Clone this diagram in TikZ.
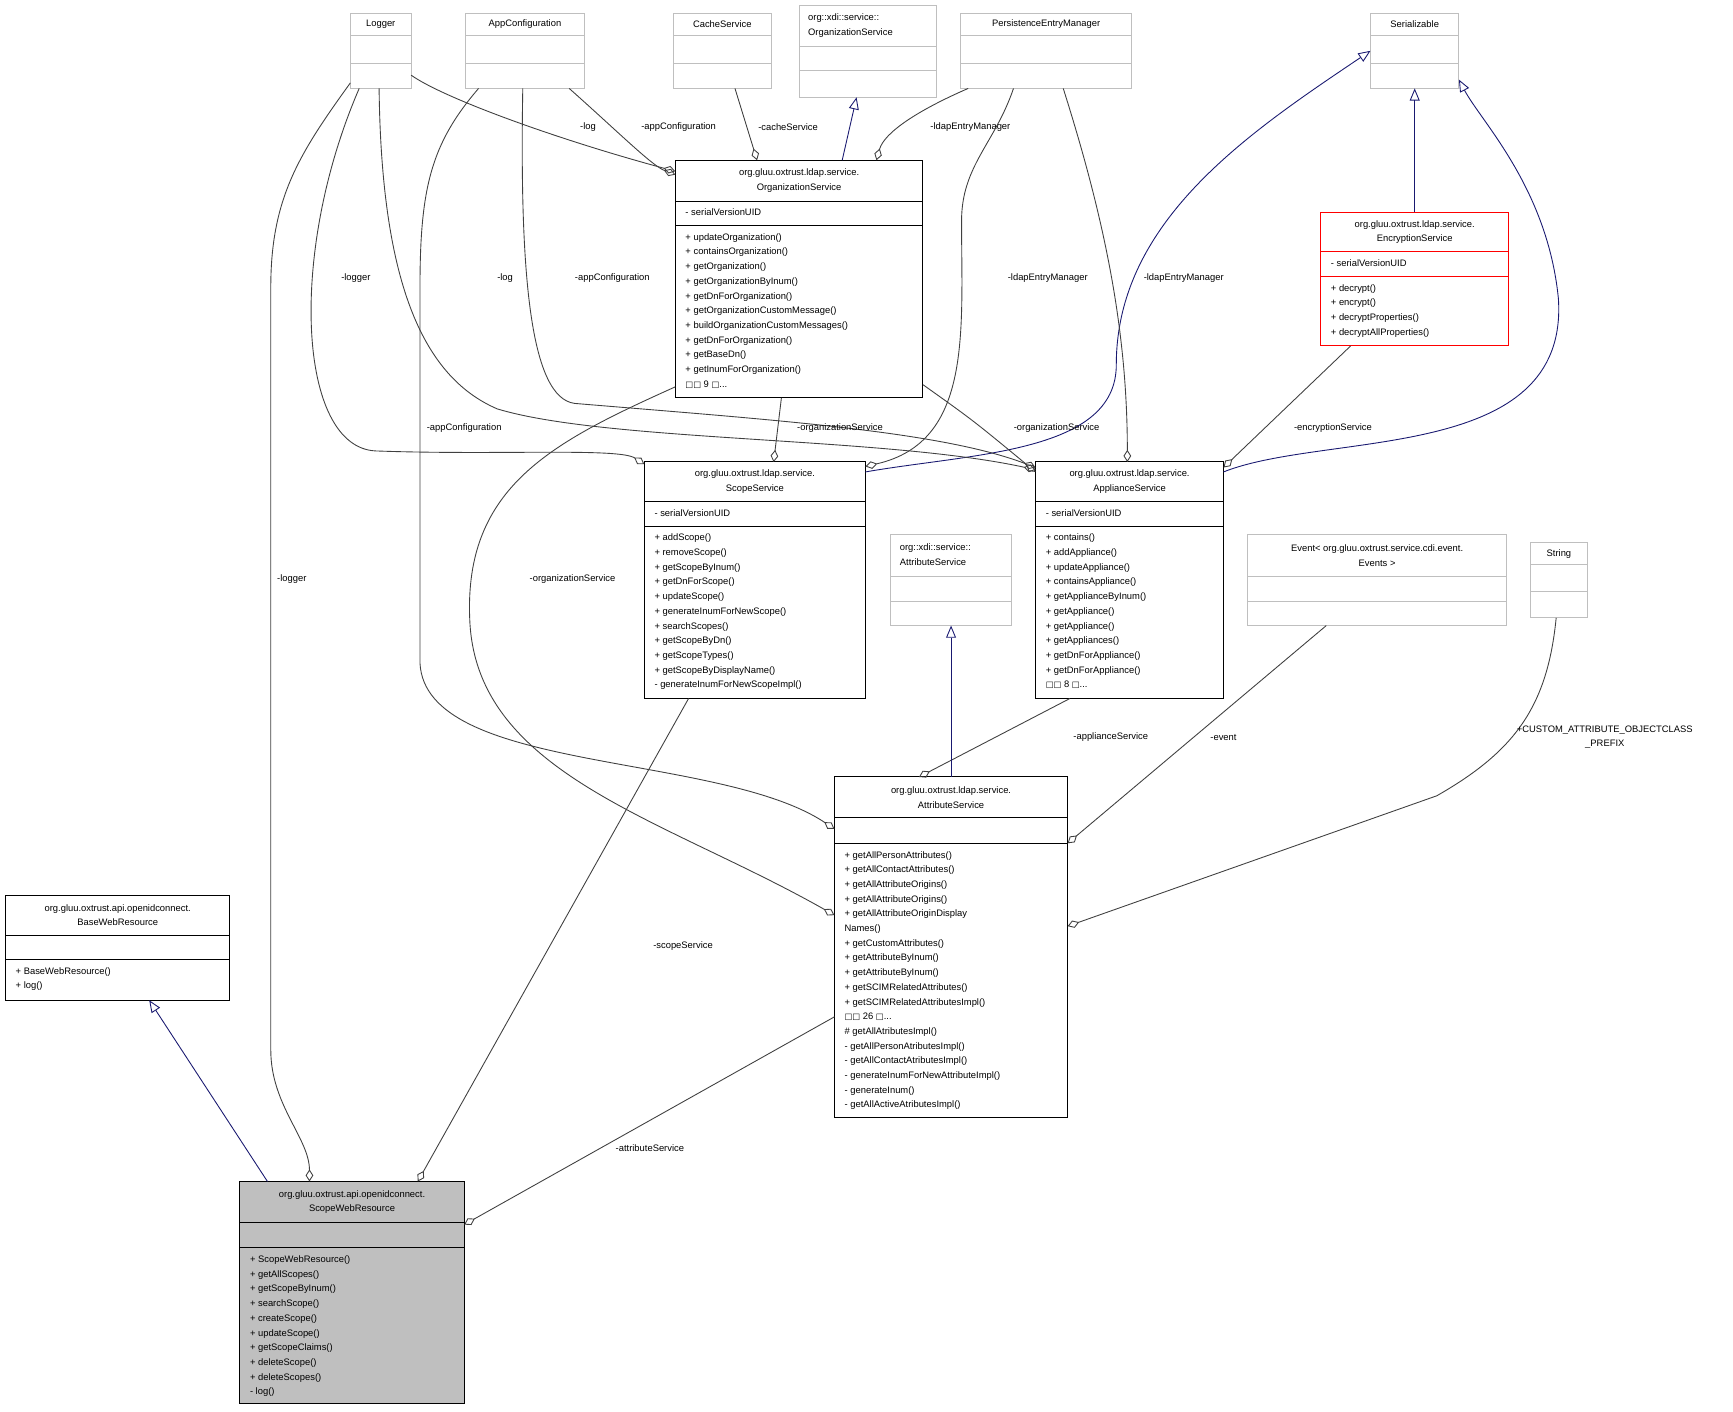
\documentclass[tikz,border=0pt]{standalone}
\usepackage{fontspec}
\setmainfont{Liberation Sans}
\newfontfamily\djv{DejaVu Sans}
\usetikzlibrary{arrows.meta}
\newcommand\dgfont{\fontsize{8.5}{13.3}\selectfont}
\newcommand\sq{{\djv\fontsize{7.5}{13.3}\selectfont □}}
\definecolor{gbord}{HTML}{BFBFBF}
\definecolor{edge}{HTML}{404040}
\definecolor{navyc}{HTML}{191970}
\newcommand\cls[9]{%
  \node[#1, anchor=north west, inner sep=0pt, outer sep=0pt, minimum width=#5pt, minimum height={(#6+#7+#8)*1pt}] (#2) at (#3,#4) {};
  \draw[#1, fill=none] (#3,#4+#6) -- ++(#5,0) (#3,#4+#6+#7) -- ++(#5,0);
  \node[font=\dgfont, align=center, inner sep=0pt] (#2-t) at (#3+#5/2, #4+#6/2) {#9};
}
\newcommand\sect[4]{% name-suffix x y text
  \node[font=\dgfont, align=left, anchor=north west, inner sep=0pt] (#1) at (#2+9,#3+7) {#4};
}
\tikzset{
  gbox/.style={draw=gbord, line width=0.9pt, fill=white},
  bbox/.style={draw=black, line width=0.9pt, fill=white},
  rbox/.style={draw=red, line width=0.9pt, fill=white},
  sbox/.style={draw=black, line width=0.9pt, fill=gbord},
  uses/.style={draw=edge, line width=0.8pt, -{Diamond[open,length=11pt,width=7pt]}},
  inh/.style={draw=navyc, line width=0.8pt, -{Triangle[open,length=11pt,width=9pt]}},
  lbl/.style={font=\dgfont, inner sep=1pt, align=center}
}
\begin{document}
\begin{tikzpicture}[x=1pt,y=-1pt]
\useasboundingbox (0,0) rectangle (1568,1277);
% ---- gray boxes
\cls{gbox}{logger}{317}{12}{55}{20}{25}{23}{Logger}
\cls{gbox}{appconf}{421}{12}{108}{20}{25}{23}{AppConfiguration}
\cls{gbox}{cache}{609}{12}{89}{20}{25}{23}{CacheService}
\cls{gbox}{xdiorg}{723}{5}{124}{37}{22}{24}{}
\node[font=\dgfont, align=left, anchor=west, inner sep=0pt] (xdiorg-tt) at (731,23) {org::xdi::service::\\OrganizationService};
\cls{gbox}{pem}{869}{12}{155}{20}{25}{23}{PersistenceEntryManager}
\cls{gbox}{serial}{1240}{12}{80}{20}{25}{23}{Serializable}
\cls{gbox}{xdiattr}{806}{484}{109}{38}{22}{22}{}
\node[font=\dgfont, align=left, anchor=west, inner sep=0pt] (xdiattr-tt) at (814,502) {org::xdi::service::\\AttributeService};
\cls{gbox}{event}{1129}{484}{234}{38}{22}{22}{Event< org.gluu.oxtrust.service.cdi.event.\\Events >}
\cls{gbox}{string}{1385}{491}{51}{20}{24}{24}{String}
% ---- main boxes
\cls{bbox}{org}{611}{145}{224}{37}{22}{156}{org.gluu.oxtrust.ldap.service.\\OrganizationService}
\sect{org-a}{611}{182}{- serialVersionUID}
\sect{org-m}{611}{204}{+ updateOrganization()\\+ containsOrganization()\\+ getOrganization()\\+ getOrganizationByInum()\\+ getDnForOrganization()\\+ getOrganizationCustomMessage()\\+ buildOrganizationCustomMessages()\\+ getDnForOrganization()\\+ getBaseDn()\\+ getInumForOrganization()\\\sq\sq{} 9 \sq...}
\cls{rbox}{enc}{1195}{192}{170}{36}{22}{63}{org.gluu.oxtrust.ldap.service.\\EncryptionService}
\sect{enc-a}{1195}{228}{- serialVersionUID}
\sect{enc-m}{1195}{250}{+ decrypt()\\+ encrypt()\\+ decryptProperties()\\+ decryptAllProperties()}
\cls{bbox}{scope}{583}{418}{200}{36}{22}{156}{org.gluu.oxtrust.ldap.service.\\ScopeService}
\sect{scope-a}{583}{454}{- serialVersionUID}
\sect{scope-m}{583}{476}{+ addScope()\\+ removeScope()\\+ getScopeByInum()\\+ getDnForScope()\\+ updateScope()\\+ generateInumForNewScope()\\+ searchScopes()\\+ getScopeByDn()\\+ getScopeTypes()\\+ getScopeByDisplayName()\\- generateInumForNewScopeImpl()}
\cls{bbox}{appl}{937}{418}{170}{36}{22}{156}{org.gluu.oxtrust.ldap.service.\\ApplianceService}
\sect{appl-a}{937}{454}{- serialVersionUID}
\sect{appl-m}{937}{476}{+ contains()\\+ addAppliance()\\+ updateAppliance()\\+ containsAppliance()\\+ getApplianceByInum()\\+ getAppliance()\\+ getAppliance()\\+ getAppliances()\\+ getDnForAppliance()\\+ getDnForAppliance()\\\sq\sq{} 8 \sq...}
\cls{bbox}{attr}{755}{703}{211}{37}{23}{248}{org.gluu.oxtrust.ldap.service.\\AttributeService}
\sect{attr-m}{755}{763}{+ getAllPersonAttributes()\\+ getAllContactAttributes()\\+ getAllAttributeOrigins()\\+ getAllAttributeOrigins()\\+ getAllAttributeOriginDisplay\\Names()\\+ getCustomAttributes()\\+ getAttributeByInum()\\+ getAttributeByInum()\\+ getSCIMRelatedAttributes()\\+ getSCIMRelatedAttributesImpl()\\\sq\sq{} 26 \sq...\\\# getAllAtributesImpl()\\- getAllPersonAtributesImpl()\\- getAllContactAtributesImpl()\\- generateInumForNewAttributeImpl()\\- generateInum()\\- getAllActiveAtributesImpl()}
\cls{bbox}{base}{5}{810}{203}{36}{22}{37}{org.gluu.oxtrust.api.openidconnect.\\BaseWebResource}
\sect{base-m}{5}{868}{+ BaseWebResource()\\+ log()}
\cls{sbox}{swr}{217}{1069}{203}{37}{23}{141}{org.gluu.oxtrust.api.openidconnect.\\ScopeWebResource}
\sect{swr-m}{217}{1129}{+ ScopeWebResource()\\+ getAllScopes()\\+ getScopeByInum()\\+ searchScope()\\+ createScope()\\+ updateScope()\\+ getScopeClaims()\\+ deleteScope()\\+ deleteScopes()\\- log()}
% ---- connectors
\draw[uses] ([shift={(0,56)}]logger.north east) .. controls (400,88) and (500,125) .. ([shift={(0,10)}]org.north west);
\node[lbl] (l1) at (532,115) {-log};
\draw[uses] ([shift={(-14,0)}]appconf.south east) .. controls (560,120) and (590,150) .. ([shift={(0,13)}]org.north west);
\node[lbl] (l2) at (614,115) {-appConfiguration};
\draw[uses] ([shift={(11.5,0)}]cache.south) -- ([shift={(-38,0)}]org.north);
\node[lbl] (l3) at (713,115) {-cacheService};
\draw[inh] ([shift={(39,0)}]org.north) -- ([shift={(-10,0)}]xdiorg.south);
\draw[uses] ([shift={(7,0)}]pem.south west) .. controls (830,100) and (800,120) .. ([shift={(70,0)}]org.north);
\node[lbl] (l4) at (878,115) {-ldapEntryManager};
\draw[inh] (enc.north) -- (serial.south);
\draw[inh] ([shift={(0,9)}]scope.north east) .. controls (880,410) and (1010,410) .. (1010,330) .. controls (1010,200) and (1130,120) .. (serial.west);
\draw[inh] ([shift={(0,9)}]appl.north east) .. controls (1200,390) and (1420,420) .. (1410,270) .. controls (1400,170) and (1340,110) .. ([shift={(0,-8)}]serial.south east);
\draw[uses] ([shift={(8,0)}]logger.south west) .. controls (260,230) and (270,405) .. (340,408) .. controls (450,412) and (560,405) .. ([shift={(0,2)}]scope.north west);
\node[lbl] (l5) at (322,252) {-logger};
\draw[uses] ([shift={(-1.5,0)}]logger.south) .. controls (345,250) and (380,340) .. (450,370) .. controls (550,400) and (800,395) .. ([shift={(0,7)}]appl.north west);
\node[lbl] (l6) at (457,252) {-log};
\draw[uses] ([shift={(0,-5)}]logger.south west) .. controls (270,140) and (245,180) .. (245,260) -- (245,950) .. controls (245,1000) and (280,1030) .. ([shift={(63,0)}]swr.north west);
\node[lbl] (l7) at (264,524) {-logger};
\draw[uses] ([shift={(-2,0)}]appconf.south) .. controls (470,250) and (480,360) .. (520,365) .. controls (700,380) and (850,390) .. ([shift={(0,5)}]appl.north west);
\node[lbl] (l8) at (554,252) {-appConfiguration};
\draw[uses] ([shift={(12,0)}]appconf.south west) .. controls (390,130) and (380,170) .. (380,260) -- (380,600) .. controls (385,700) and (650,680) .. ([shift={(0,47)}]attr.north west);
\node[lbl] (l9) at (420,387) {-appConfiguration};
\draw[uses] ([shift={(-29.5,0)}]pem.south) .. controls (900,130) and (870,150) .. (870,200) .. controls (870,300) and (880,400) .. ([shift={(0,4)}]scope.north east);
\node[lbl] (l10) at (948,252) {-ldapEntryManager};
\draw[uses] ([shift={(-62,0)}]pem.south east) .. controls (1000,200) and (1020,300) .. ([shift={(-2,0)}]appl.north);
\node[lbl] (l11) at (1071,252) {-ldapEntryManager};
\draw[uses] ([shift={(-16,0)}]org.south) -- ([shift={(17,0)}]scope.north);
\node[lbl] (l12) at (760,387) {-organizationService};
\draw[uses] ([shift={(0,-12)}]org.south east) .. controls (880,380) .. ([shift={(0,9)}]appl.north west);
\node[lbl] (l13) at (956,387) {-organizationService};
\draw[uses] ([shift={(0,-10)}]org.south west) .. controls (500,400) and (420,440) .. (425,560) .. controls (430,700) and (600,740) .. ([shift={(0,125)}]attr.north west);
\node[lbl] (l14) at (518,524) {-organizationService};
\draw[uses] ([shift={(27,0)}]enc.south west) -- ([shift={(0,5)}]appl.north east);
\node[lbl] (l15) at (1206,387) {-encryptionService};
\draw[uses] ([shift={(31,0)}]appl.south west) -- ([shift={(76.5,0)}]attr.north west);
\node[lbl] (l16) at (1005,667) {-applianceService};
\draw[uses] ([shift={(40,0)}]scope.south west) -- ([shift={(-42,0)}]swr.north east);
\node[lbl] (l17) at (618,856) {-scopeService};
\draw[uses] ([shift={(0,217)}]attr.north west) -- ([shift={(0,39)}]swr.north east);
\node[lbl] (l18) at (588,1039) {-attributeService};
\draw[inh] (attr.north) -- (xdiattr.south);
\draw[uses] ([shift={(-46,0)}]event.south) -- ([shift={(0,60)}]attr.north east);
\node[lbl] (l19) at (1107,667) {-event};
\draw[uses] ([shift={(-2.5,0)}]string.south) .. controls (1400,640) and (1370,680) .. (1300,720) -- ([shift={(0,135)}]attr.north east);
\node[lbl] (l20) at (1452,667) {+CUSTOM\_ATTRIBUTE\_OBJECTCLASS\\\_PREFIX};
\draw[inh] ([shift={(25,0)}]swr.north west) -- ([shift={(28.5,0)}]base.south);
\end{tikzpicture}
\end{document}
